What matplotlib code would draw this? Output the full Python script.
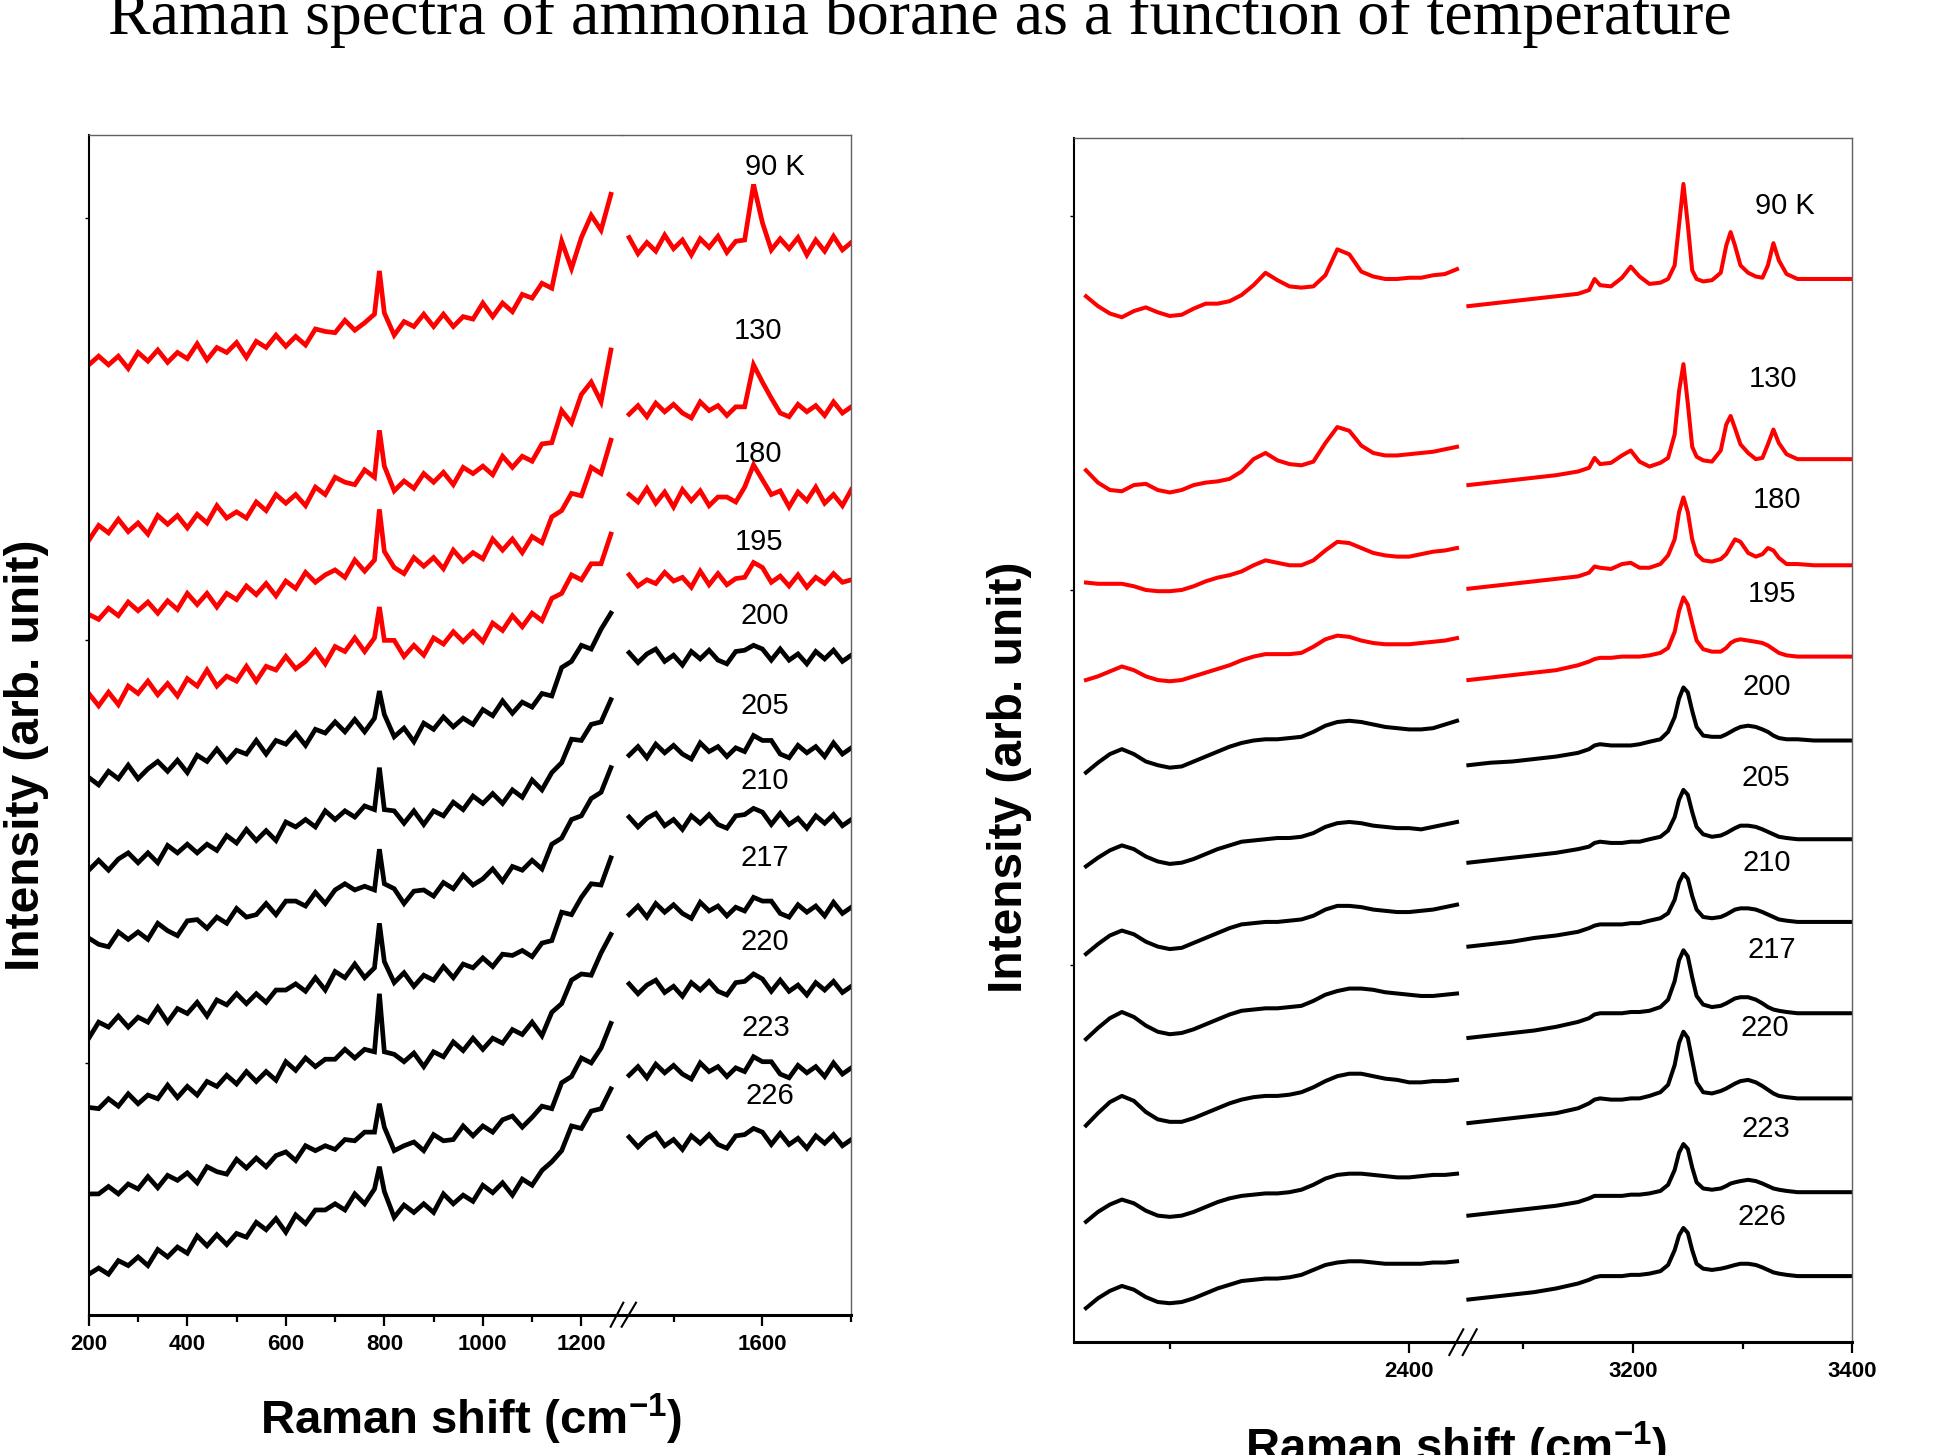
import numpy as np
import matplotlib
matplotlib.use('Agg')
import matplotlib.pyplot as plt
from matplotlib.lines import Line2D
from matplotlib import font_manager as fm

# ---------------- data ----------------
temps = ['90 K', '130', '180', '195', '200', '205', '210', '217', '220', '223', '226']
colors = ['#ff0000'] * 4 + ['#000000'] * 7

# Left panel (200-1800 cm-1, broken axis). Values in display units above the x axis.
wn_low = np.r_[200:761:20, 780, 790, 800, 820:1261:20]
wn_high = np.arange(1300, 1801, 20)
left_offsets = [769, 633, 567, 498, 433, 363, 301, 232, 168, 98, 33]

low_90 = [0, 7, 0, 7, -3, 10, 3, 12, 2, 10, 5, 17, 4, 14, 10, 18, 6, 19, 14, 24, 15, 23, 16, 29, 27, 26, 36, 28, 34, 41,
          76, 42, 24, 35, 31, 41, 31, 41, 31, 39, 37, 50, 39, 50, 43, 57, 54, 66, 62, 100, 78, 103, 121, 109, 138]
low_130 = [-6, 6, 0, 11, 1, 8, -1, 14, 7, 14, 4, 15, 8, 22, 12, 17, 12, 25, 18, 31, 24, 31, 22, 37, 31, 45, 41, 39, 51, 45,
           83, 54, 34, 42, 36, 48, 41, 49, 39, 53, 48, 54, 47, 62, 53, 62, 58, 72, 73, 99, 89, 112, 122, 106, 148]
low_180 = [0, -4, 5, -1, 10, 3, 10, 1, 11, 4, 17, 8, 17, 6, 17, 12, 23, 16, 25, 15, 27, 21, 34, 26, 32, 36, 30, 44, 35, 44,
           85, 51, 38, 33, 46, 39, 46, 37, 52, 43, 50, 45, 61, 52, 61, 50, 63, 58, 79, 84, 98, 96, 119, 114, 141]
low_195 = [5, -5, 6, -4, 11, 5, 15, 4, 13, 3, 17, 11, 24, 11, 19, 15, 27, 15, 27, 24, 35, 25, 31, 40, 29, 43, 39, 50, 39, 50,
           75, 48, 48, 35, 44, 36, 50, 45, 55, 47, 55, 47, 62, 56, 68, 59, 70, 64, 82, 86, 101, 97, 110, 110, 134]
low_200 = [2, -4, 7, 1, 12, 1, 9, 15, 7, 16, 6, 20, 15, 25, 15, 24, 21, 32, 21, 32, 29, 38, 28, 41, 38, 47, 39, 49, 39, 50,
           72, 53, 35, 42, 31, 46, 41, 51, 43, 50, 45, 57, 52, 64, 54, 63, 59, 70, 68, 91, 96, 109, 106, 122, 135]
low_205 = [-3, 5, -3, 6, 11, 3, 11, 3, 17, 11, 18, 11, 18, 13, 25, 19, 30, 21, 29, 21, 36, 32, 38, 32, 45, 38, 45, 40, 49, 46,
           80, 46, 45, 35, 45, 34, 45, 41, 52, 46, 57, 51, 59, 51, 62, 56, 70, 62, 76, 84, 103, 102, 115, 117, 135]
low_210 = [4, -1, -3, 9, 3, 9, 3, 16, 10, 6, 18, 19, 12, 21, 16, 28, 21, 23, 32, 23, 34, 34, 30, 41, 32, 43, 48, 43, 46, 43,
           76, 48, 44, 32, 42, 43, 38, 49, 44, 55, 47, 52, 60, 50, 62, 59, 67, 60, 80, 85, 100, 103, 117, 122, 142]
low_217 = [-8, 5, 1, 10, 1, 9, 5, 17, 5, 16, 12, 21, 10, 23, 19, 28, 20, 28, 21, 31, 31, 36, 30, 41, 31, 46, 41, 52, 41, 49,
           85, 54, 37, 45, 34, 43, 39, 50, 41, 52, 49, 57, 50, 60, 59, 63, 58, 69, 71, 94, 92, 106, 117, 116, 138]
low_220 = [0, -1, 7, 1, 11, 3, 10, 7, 18, 8, 17, 10, 21, 17, 26, 19, 29, 21, 29, 22, 37, 30, 40, 33, 39, 39, 47, 40, 47, 45,
           92, 45, 43, 37, 44, 33, 45, 41, 53, 46, 56, 47, 56, 52, 63, 59, 69, 58, 77, 84, 103, 108, 107, 125, 140]
low_223 = [0, 0, 6, 0, 8, 4, 14, 5, 15, 11, 17, 9, 22, 18, 16, 28, 21, 29, 22, 31, 34, 27, 39, 35, 39, 36, 44, 43, 50, 50,
           73, 54, 35, 39, 42, 35, 48, 43, 44, 55, 47, 55, 50, 60, 63, 54, 62, 71, 69, 90, 95, 110, 106, 118, 138]
low_226 = [0, 5, 0, 11, 7, 14, 7, 20, 14, 22, 17, 31, 23, 32, 24, 33, 30, 42, 36, 45, 34, 48, 41, 52, 52, 57, 52, 65, 57, 69,
           87, 67, 46, 56, 50, 57, 50, 65, 57, 64, 59, 72, 66, 74, 64, 77, 72, 84, 91, 100, 120, 118, 132, 134, 150]

high_90 = [103, 90, 99, 92, 105, 94, 101, 89, 102, 95, 104, 91, 100, 101, 146, 115, 93, 102, 94, 103, 89, 101, 92, 104, 93, 99]
high_130 = [96, 103, 94, 105, 98, 104, 97, 93, 106, 99, 103, 95, 102, 102, 136, 122, 109, 97, 94, 104, 98, 103, 95, 106, 97, 102]
high_180 = [97, 91, 102, 90, 99, 87, 101, 92, 100, 88, 95, 95, 91, 103, 121, 109, 97, 100, 87, 99, 92, 103, 90, 97, 88, 101]
high_195 = [101, 92, 97, 94, 103, 96, 99, 91, 104, 93, 102, 93, 98, 99, 111, 107, 95, 100, 92, 101, 91, 99, 94, 102, 95, 97]
high_200 = [103, 95, 102, 106, 96, 101, 93, 104, 98, 105, 97, 94, 104, 105, 109, 106, 97, 106, 97, 102, 94, 104, 98, 105, 96, 101]
high_205 = [90, 97, 88, 99, 92, 98, 91, 87, 100, 93, 97, 89, 96, 93, 106, 102, 102, 91, 88, 98, 92, 97, 89, 100, 91, 96]
high_210 = [102, 94, 101, 105, 95, 100, 92, 103, 97, 104, 96, 93, 103, 104, 109, 106, 96, 105, 96, 101, 93, 103, 97, 104, 95, 100]
high_217 = [92, 99, 90, 101, 94, 100, 93, 89, 102, 95, 99, 91, 98, 95, 106, 103, 103, 93, 90, 100, 94, 99, 91, 102, 93, 98]
high_220 = [100, 92, 99, 103, 93, 98, 90, 101, 95, 102, 94, 91, 101, 102, 108, 104, 94, 103, 94, 99, 91, 101, 95, 102, 93, 98]
high_223 = [96, 103, 94, 105, 98, 104, 97, 93, 106, 99, 103, 95, 102, 99, 111, 107, 107, 97, 94, 104, 98, 103, 95, 106, 97, 102]
high_226 = [111, 103, 110, 114, 104, 109, 101, 112, 106, 113, 105, 102, 112, 113, 118, 115, 105, 114, 105, 110, 102, 112, 106, 113, 104, 109]

# Right panel (B-H and N-H stretching regions), stacked display values
wn_bh = np.arange(2130, 2441, 10)
wn_nh = [3050, 3070, 3090, 3110, 3130, 3150, 3160, 3165, 3170, 3180, 3190, 3198, 3206, 3215, 3225, 3232, 3238, 3242, 3246, 3250,
         3254, 3258, 3264, 3272, 3280, 3285, 3289, 3293, 3298, 3305, 3312, 3318, 3323, 3328, 3333, 3340, 3350, 3365, 3380, 3400]

bh_90 = [847, 839, 833, 830, 835, 838, 834, 831, 832, 837, 841, 841, 843, 848, 856, 866, 860, 855, 854, 855, 864, 885, 881, 867, 863, 861, 861, 862, 862, 864, 865, 869]
bh_130 = [706, 696, 690, 689, 694, 695, 690, 688, 690, 694, 696, 697, 699, 705, 715, 720, 714, 711, 710, 713, 728, 741, 738, 726, 720, 718, 718, 719, 720, 721, 723, 725]
bh_180 = [615, 614, 614, 614, 612, 609, 608, 608, 609, 612, 616, 619, 621, 624, 629, 633, 631, 629, 629, 633, 641, 648, 647, 643, 639, 637, 636, 636, 638, 640, 641, 643]
bh_195 = [536, 539, 543, 547, 544, 539, 536, 535, 536, 539, 542, 545, 548, 552, 555, 557, 557, 557, 558, 563, 569, 572, 571, 568, 566, 565, 565, 565, 566, 567, 568, 570]
bh_200 = [461, 469, 476, 480, 476, 470, 467, 465, 466, 470, 474, 478, 482, 485, 487, 488, 488, 489, 490, 494, 499, 502, 503, 502, 500, 498, 497, 496, 496, 497, 500, 503]
bh_205 = [385, 392, 398, 402, 399, 393, 389, 387, 388, 391, 395, 399, 402, 405, 406, 407, 408, 408, 409, 412, 417, 420, 421, 420, 418, 417, 416, 416, 415, 417, 419, 421]
bh_210 = [314, 322, 329, 333, 330, 324, 320, 318, 319, 323, 327, 331, 335, 338, 339, 340, 340, 341, 342, 345, 350, 353, 353, 352, 350, 349, 348, 348, 349, 350, 352, 354]
bh_217 = [245, 254, 262, 267, 263, 256, 251, 249, 250, 253, 257, 261, 265, 268, 269, 270, 270, 271, 272, 276, 281, 284, 286, 286, 285, 283, 282, 281, 280, 280, 281, 282]
bh_220 = [175, 185, 194, 199, 195, 186, 180, 178, 178, 181, 185, 189, 193, 196, 198, 199, 199, 200, 202, 206, 211, 215, 217, 217, 215, 213, 212, 210, 210, 211, 211, 212]
bh_223 = [97, 105, 111, 115, 112, 106, 102, 101, 102, 105, 109, 113, 116, 118, 119, 120, 120, 121, 123, 127, 132, 135, 136, 136, 135, 134, 133, 133, 134, 135, 135, 136]
bh_226 = [27, 35, 41, 45, 42, 36, 32, 31, 32, 35, 39, 43, 46, 49, 50, 51, 51, 52, 54, 58, 62, 64, 65, 65, 64, 63, 63, 63, 63, 64, 64, 65]

nh_90 = [839, 841, 843, 845, 847, 849, 852, 861, 856, 855, 862, 871, 863, 857, 858, 861, 872, 905, 938, 905,
         868, 861, 859, 860, 866, 888, 899, 888, 872, 866, 863, 862, 872, 890, 876, 865, 861, 861, 861, 861]
nh_130 = [694, 696, 698, 700, 702, 705, 708, 716, 711, 712, 718, 722, 713, 709, 712, 716, 735, 770, 792, 760,
          725, 717, 714, 713, 722, 743, 750, 740, 727, 720, 715, 716, 727, 739, 728, 719, 715, 715, 715, 715]
nh_180 = [610, 612, 614, 616, 618, 620, 623, 628, 627, 626, 630, 631, 627, 627, 630, 637, 650, 672, 684, 672,
          650, 638, 633, 632, 634, 638, 644, 650, 648, 639, 636, 638, 643, 641, 635, 630, 630, 629, 629, 629]
nh_195 = [536, 538, 540, 542, 544, 548, 551, 553, 554, 554, 555, 555, 555, 556, 558, 562, 575, 592, 603, 597,
          582, 568, 561, 559, 559, 562, 566, 568, 569, 568, 567, 566, 564, 561, 558, 556, 555, 555, 555, 555]
nh_200 = [467, 469, 470, 472, 474, 477, 480, 483, 484, 483, 483, 483, 484, 486, 488, 494, 506, 521, 530, 526,
          511, 498, 491, 490, 490, 492, 494, 496, 498, 499, 498, 496, 494, 491, 489, 488, 488, 487, 487, 487]
nh_205 = [388, 390, 392, 394, 396, 399, 401, 404, 405, 404, 404, 405, 405, 407, 409, 414, 425, 439, 447, 443,
          429, 417, 411, 409, 410, 412, 414, 416, 418, 418, 417, 415, 413, 411, 409, 408, 407, 407, 407, 407]
nh_210 = [320, 322, 324, 327, 329, 332, 335, 337, 338, 338, 338, 339, 339, 341, 343, 347, 358, 372, 379, 375,
          361, 350, 344, 343, 344, 346, 348, 350, 351, 351, 350, 348, 346, 344, 342, 341, 340, 340, 340, 340]
nh_217 = [246, 248, 250, 252, 255, 259, 262, 265, 266, 266, 266, 267, 267, 268, 271, 277, 292, 309, 317, 312,
          295, 280, 273, 271, 272, 274, 276, 278, 279, 279, 277, 274, 271, 269, 268, 267, 266, 266, 266, 266]
nh_220 = [177, 179, 181, 183, 185, 189, 193, 196, 197, 196, 196, 197, 197, 199, 202, 208, 224, 242, 251, 246,
          228, 210, 202, 201, 203, 205, 207, 209, 211, 212, 210, 207, 204, 201, 199, 198, 197, 197, 197, 197]
nh_223 = [102, 104, 106, 108, 110, 113, 116, 118, 118, 118, 118, 119, 119, 120, 122, 127, 139, 153, 160, 156,
          141, 129, 124, 123, 124, 126, 128, 129, 130, 131, 130, 128, 126, 124, 123, 122, 121, 121, 121, 121]
nh_226 = [34, 36, 38, 40, 43, 47, 50, 52, 53, 53, 53, 54, 54, 55, 57, 62, 74, 86, 92, 88,
          74, 63, 59, 58, 59, 60, 61, 62, 63, 63, 62, 60, 58, 56, 55, 54, 53, 53, 53, 53]

left_low = [low_90, low_130, low_180, low_195, low_200, low_205, low_210, low_217, low_220, low_223, low_226]
left_high = [high_90, high_130, high_180, high_195, high_200, high_205, high_210, high_217, high_220, high_223, high_226]
right_bh = [bh_90, bh_130, bh_180, bh_195, bh_200, bh_205, bh_210, bh_217, bh_220, bh_223, bh_226]
right_nh = [nh_90, nh_130, nh_180, nh_195, nh_200, nh_205, nh_210, nh_217, nh_220, nh_223, nh_226]

title = 'Raman spectra of ammonia borane as a function of temperature'

# ---------------- fonts ----------------
SANS = 'Liberation Sans'
SERIF = 'Liberation Serif'
plt.rcParams['mathtext.fontset'] = 'custom'
plt.rcParams['mathtext.rm'] = SANS
plt.rcParams['mathtext.bf'] = SANS + ':bold'

tick_fp = fm.FontProperties(family=SANS, weight='bold', size=16)

# ---------------- layout ----------------
W, H = 1935, 1455
fig = plt.figure(figsize=(W / 100, H / 100), dpi=100)


def fx(px):
    return px / W


def fy(py):
    return 1 - py / H


def make_pair(x0, xb, x1, ybot, ytop):
    h = (ybot - ytop) / H
    a1 = fig.add_axes([fx(x0), fy(ybot), fx(xb) - fx(x0), h])
    a2 = fig.add_axes([fx(xb), fy(ybot), fx(x1) - fx(xb), h], sharey=a1)
    for a in (a1, a2):
        a.set_facecolor('none')
        a.spines['top'].set_color('#606060')
        a.spines['top'].set_linewidth(1.0)
        a.spines['bottom'].set_linewidth(2.2)
        a.tick_params(axis='x', which='major', direction='out', length=8, width=1.6, pad=6)
        a.tick_params(axis='x', which='minor', direction='out', length=5, width=1.6)
    a1.spines['right'].set_visible(False)
    a2.spines['left'].set_visible(False)
    a2.spines['right'].set_color('#606060')
    a2.spines['right'].set_linewidth(1.0)
    a1.spines['left'].set_linewidth(1.5)
    a1.tick_params(axis='y', direction='out', length=3, width=1, labelleft=False)
    a2.tick_params(axis='y', left=False, right=False, labelleft=False)
    return a1, a2


axL1, axL2 = make_pair(88.8, 622, 851.3, 1315, 135)
axR1, axR2 = make_pair(1074, 1461.8, 1852.4, 1341.5, 138.3)

axL1.set_xlim(200, 1282.5)
axL2.set_xlim(1284, 1800)
axL1.set_ylim(0, 955)
axR1.set_xlim(2120, 2444)
axR2.set_xlim(3044, 3400)
axR1.set_ylim(0, 975)

axL1.set_yticks([204, 546, 888])
axR1.set_yticks([305, 609, 912])


def set_xt(ax, major, minor, labels):
    ax.set_xticks(major)
    ax.set_xticklabels(labels, fontproperties=tick_fp)
    ax.set_xticks(minor, minor=True)


set_xt(axL1, [200, 400, 600, 800, 1000, 1200], [300, 500, 700, 900, 1100],
       ['200', '400', '600', '800', '1000', '1200'])
set_xt(axL2, [1600], [1400, 1800], ['1600'])
set_xt(axR1, [2400], [2200], ['2400'])
set_xt(axR2, [3200, 3400], [3100, 3300], ['3200', '3400'])

# ---------------- spectra ----------------
for lo, hi, off, c in zip(left_low, left_high, left_offsets, colors):
    axL1.plot(wn_low, off + np.asarray(lo), color=c, lw=3.4, solid_joinstyle='miter')
    axL2.plot(wn_high, off + np.asarray(hi), color=c, lw=3.4, solid_joinstyle='miter')

for bh, nh, c in zip(right_bh, right_nh, colors):
    axR1.plot(wn_bh, bh, color=c, lw=2.9)
    axR2.plot(wn_nh, nh, color=c, lw=2.9)

# ---------------- temperature labels (positions in 1568x1179 preview px) ----------------
left_lab = [(628, 133), (614, 266), (614, 366), (615, 437), (620, 497), (620, 570),
            (620, 631), (620, 693), (620, 761), (621, 831), (624, 886)]
right_lab = [(1446, 165), (1437, 305), (1440, 403), (1436, 479), (1432, 555), (1431, 628),
             (1432, 697), (1436, 768), (1430, 831), (1431, 913), (1428, 984)]
for t, (x, y) in zip(temps, left_lab):
    fig.text(x / 1568, 1 - (y + 8.5) / 1179, t, ha='center', va='baseline', fontsize=21, family=SANS)
for t, (x, y) in zip(temps, right_lab):
    fig.text(x / 1568, 1 - (y + 8.5) / 1179, t, ha='center', va='baseline', fontsize=21, family=SANS)

# ---------------- axis labels & title ----------------
xlab = r'Raman shift (cm$^{\mathbf{-1}}$)'
fig.text(fx(471), fy(1434), xlab, ha='center', va='baseline', fontsize=34, family=SANS, weight='bold')
fig.text(fx(1456), fy(1462), xlab, ha='center', va='baseline', fontsize=34, family=SANS, weight='bold')
fig.text(fx(27), fy(755), 'Intensity (arb. unit)', rotation=90, ha='center', va='center',
         fontsize=34.5, family=SANS, weight='bold')
fig.text(fx(1009), fy(777), 'Intensity (arb. unit)', rotation=90, ha='center', va='center',
         fontsize=34.5, family=SANS, weight='bold')
fig.text(fx(108), fy(34), title, ha='left', va='baseline', fontsize=46, family=SERIF)

# ---------------- axis-break marks ----------------
for (xa, ya, xb, yb) in [(610.7, 1326.7, 623.3, 1302.7), (621.7, 1326.7, 636.0, 1302.7),
                         (1449.3, 1355.0, 1463.3, 1329.3), (1462.7, 1355.0, 1476.7, 1329.3)]:
    fig.add_artist(Line2D([fx(xa), fx(xb)], [fy(ya), fy(yb)], color='black', lw=1.5))

fig.savefig('out.png', dpi=100)
